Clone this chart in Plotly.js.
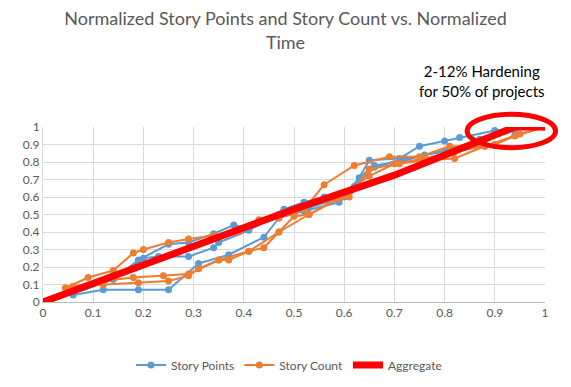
<!DOCTYPE html>
<html><head><meta charset="utf-8">
<script src="https://cdn.plot.ly/plotly-3.0.1.min.js"></script>
<style>html,body{margin:0;padding:0;background:#fff}#chart{width:571px;height:387px}</style>
</head><body><div id="chart"></div>
<script>
// Story Points projects
const spA_x = [0.06,0.14,0.19,0.25,0.29,0.34,0.38,0.41,0.48,0.52,0.56,0.62,0.65,0.71,0.75,0.80,0.83,0.90,0.94];
const spA_y = [0.05,0.13,0.24,0.33,0.34,0.39,0.44,0.42,0.53,0.57,0.60,0.66,0.81,0.82,0.89,0.92,0.94,0.98,0.99];
const spB_x = [0.06,0.12,0.19,0.25,0.31,0.37,0.44,0.47,0.52,0.59,0.63,0.66,0.71,0.76,0.81,0.88,0.94];
const spB_y = [0.04,0.07,0.07,0.07,0.22,0.27,0.37,0.48,0.52,0.57,0.71,0.78,0.80,0.84,0.87,0.93,0.98];
const spC_x = [0.06,0.14,0.20,0.23,0.29,0.34,0.35,0.41,0.47,0.53,0.60,0.66,0.72,0.80,0.87,0.94];
const spC_y = [0.05,0.13,0.25,0.26,0.26,0.31,0.34,0.41,0.50,0.54,0.60,0.77,0.82,0.86,0.93,0.99];
// Story Count projects
const scA_x = [0.045,0.09,0.14,0.18,0.20,0.25,0.29,0.34,0.39,0.43,0.47,0.52,0.56,0.62,0.69,0.75,0.81,0.88,0.94,1.0];
const scA_y = [0.08,0.14,0.18,0.28,0.30,0.34,0.36,0.38,0.40,0.47,0.48,0.53,0.67,0.78,0.83,0.83,0.89,0.89,0.95,1.0];
const scB_x = [0.06,0.12,0.19,0.25,0.29,0.31,0.35,0.37,0.41,0.44,0.47,0.50,0.53,0.59,0.61,0.65,0.71,0.76,0.82,0.88,0.94,1.0];
const scB_y = [0.09,0.10,0.11,0.12,0.15,0.19,0.24,0.24,0.29,0.31,0.40,0.49,0.50,0.59,0.60,0.76,0.79,0.81,0.82,0.89,0.95,1.0];
const scC_x = [0.045,0.12,0.18,0.24,0.29,0.35,0.41,0.47,0.53,0.59,0.65,0.70,0.76,0.82,0.90,0.95,1.0];
const scC_y = [0.08,0.12,0.14,0.15,0.16,0.24,0.29,0.40,0.50,0.60,0.72,0.79,0.82,0.86,0.90,0.96,1.0];
// Aggregate
const agg_x = [0,0.5,0.7,0.94,1];
const agg_y = [0,0.53,0.725,1,1];
const tickVals = [0,0.1,0.2,0.3,0.4,0.5,0.6,0.7,0.8,0.9,1];
const tickText = ['0','0.1','0.2','0.3','0.4','0.5','0.6','0.7','0.8','0.9','1'];

const BLUE = '#5b9bd5', ORANGE = '#ed7d31';
function series(x, y, color, name, show) {
  return {x, y, type:'scatter', mode:'lines+markers', name, showlegend:show, legendgroup:name,
    line:{color, width:2}, marker:{color, size:7}};
}
const data = [
  series(spA_x, spA_y, BLUE, 'Story Points', true),
  series(spB_x, spB_y, BLUE, 'Story Points', false),
  series(spC_x, spC_y, BLUE, 'Story Points', false),
  series(scA_x, scA_y, ORANGE, 'Story Count', true),
  series(scB_x, scB_y, ORANGE, 'Story Count', false),
  series(scC_x, scC_y, ORANGE, 'Story Count', false),
  {x:agg_x, y:agg_y, type:'scatter', mode:'lines', name:'Aggregate', line:{color:'#ff0000', width:7}}
];
const layout = {
  width:571, height:387,
  margin:{l:43, r:26, t:127, b:85},
  paper_bgcolor:'#fff', plot_bgcolor:'#fff',
  font:{family:'Lato, "Open Sans", sans-serif', color:'#595959', size:12},
  title:{text:'Normalized Story Points and Story Count vs. Normalized<br>Time', x:0.5, xanchor:'center', y:0.935, yanchor:'top',
    font:{size:18, color:'#595959', family:'Lato, sans-serif'}},
  xaxis:{range:[0,1], tickvals:tickVals, ticktext:tickText, showgrid:true, gridcolor:'#d9d9d9', zeroline:false,
    showline:true, linecolor:'#bfbfbf', ticks:'', tickfont:{size:12, color:'#595959'}, fixedrange:true},
  yaxis:{range:[0,1], tickvals:tickVals, ticktext:tickText, showgrid:true, gridcolor:'#d9d9d9', zeroline:false,
    showline:true, linecolor:'#d9d9d9', ticks:'', tickfont:{size:12, color:'#595959'}, fixedrange:true},
  legend:{orientation:'h', x:0.49, xanchor:'center', yref:'container', y:0.057, yanchor:'middle', font:{size:12, color:'#595959'}, itemwidth:30},
  shapes:[{type:'circle', xref:'paper', yref:'paper', x0:0.845, x1:1.021, y0:0.882, y1:1.073,
    line:{color:'#ff0000', width:5}, layer:'above'}],
  annotations:[{xref:'paper', yref:'paper', x:0.875, y:1.265, xanchor:'center', yanchor:'middle', showarrow:false,
    text:'2-12% Hardening<br>for 50% of projects', font:{size:15, color:'#000', family:'Lato, sans-serif'}, align:'center'}]
};
Plotly.newPlot('chart', data, layout, {displayModeBar:false, staticPlot:true});
</script></body></html>
